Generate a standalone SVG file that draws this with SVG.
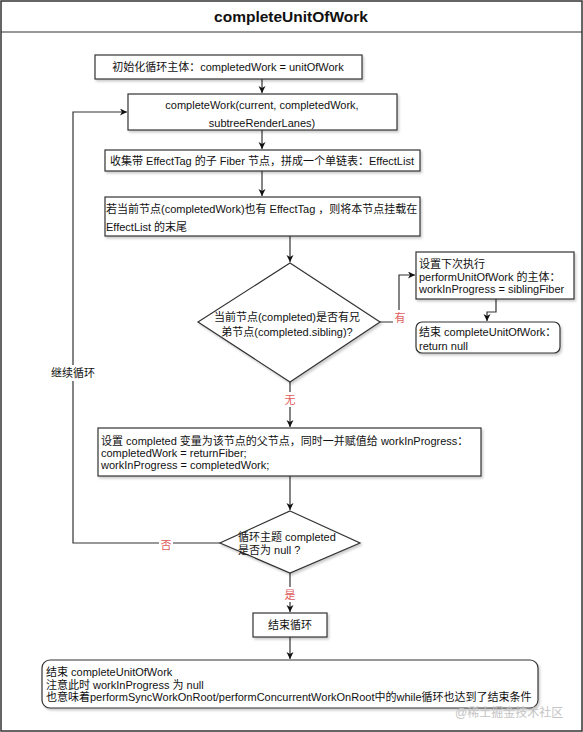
<svg xmlns="http://www.w3.org/2000/svg" width="583" height="732" viewBox="0 0 583 732">
<defs>
<style>
text{font-family:"Liberation Sans","Noto Sans CJK SC",sans-serif;font-size:11px;fill:#111}
.box{fill:#fff;stroke:#333;stroke-width:1.2}
.sh{filter:url(#shadow)}
.edge{fill:none;stroke:#333;stroke-width:1.2}
.lbl{fill:#e05a5a;font-size:11px;text-anchor:middle}
.c{text-anchor:middle}
</style>
<filter id="shadow" x="-10%" y="-10%" width="130%" height="140%">
<feDropShadow dx="1.5" dy="2" stdDeviation="1" flood-color="#000" flood-opacity="0.2"/>
</filter>
<marker id="arr" markerUnits="userSpaceOnUse" markerWidth="9" markerHeight="9" refX="7" refY="3.5" orient="auto">
<path d="M0,0 L7,3.5 L0,7 L2,3.5 z" fill="#111"/>
</marker>
</defs>
<rect x="0" y="0" width="583" height="732" fill="#fff"/>
<g id="frame">
<rect x="1" y="1" width="581" height="730" fill="none" stroke="#333" stroke-width="1.5"/>
<line x1="1" y1="32" x2="582" y2="32" stroke="#333" stroke-width="1.2"/>
<text x="291" y="22" text-anchor="middle" style="font-size:15.5px;font-weight:bold">completeUnitOfWork</text>
</g>
<g id="connectors">
<path class="edge" d="M262,79 V93" marker-end="url(#arr)"/>
<path class="edge" d="M262,130 V149" marker-end="url(#arr)"/>
<path class="edge" d="M262,171 V196" marker-end="url(#arr)"/>
<path class="edge" d="M290,236 V262" marker-end="url(#arr)"/>
<path class="edge" d="M380,322 H399 V275 H415" marker-end="url(#arr)"/>
<path class="edge" d="M496,299 V312 H487 V321" marker-end="url(#arr)"/>
<path class="edge" d="M290,382 V427" marker-end="url(#arr)"/>
<path class="edge" d="M290,476 V510" marker-end="url(#arr)"/>
<path class="edge" d="M220,543 H73 V112 H127" marker-end="url(#arr)"/>
<path class="edge" d="M290,573 V612" marker-end="url(#arr)"/>
<path class="edge" d="M290,637 V659" marker-end="url(#arr)"/>
<rect x="393" y="310" width="14" height="15" fill="#fff"/>
<text class="lbl" x="400" y="322">有</text>
<rect x="283" y="392" width="14" height="15" fill="#fff"/>
<text class="lbl" x="290" y="404">无</text>
<rect x="159" y="537" width="14" height="15" fill="#fff"/>
<text class="lbl" x="166" y="549">否</text>
<rect x="283" y="587" width="14" height="15" fill="#fff"/>
<text class="lbl" x="290" y="599">是</text>
<rect x="51" y="365" width="44" height="16" fill="#fff"/>
<text class="c" x="73" y="377">继续循环</text>
</g>
<g id="n-init">
<rect class="box sh" x="95" y="55" width="267" height="24"/>
<text class="c" x="228" y="71">初始化循环主体：completedWork = unitOfWork</text>
</g>
<g id="n-completeWork">
<rect class="box sh" x="128" y="94" width="269" height="36"/>
<text class="c" x="262" y="109">completeWork(current, completedWork,</text>
<text class="c" x="262" y="127">subtreeRenderLanes)</text>
</g>
<g id="n-collect">
<rect class="box sh" x="105" y="150" width="315" height="21"/>
<text class="c" x="262" y="165">收集带 EffectTag 的子 Fiber 节点，拼成一个单链表：EffectList</text>
</g>
<g id="n-append">
<rect class="box sh" x="105" y="197" width="315" height="39"/>
<text x="106" y="213">若当前节点(completedWork)也有 EffectTag ，则将本节点挂载在</text>
<text x="106" y="231">EffectList 的末尾</text>
</g>
<g id="n-hasSibling">
<polygon class="box sh" points="290,263 380,322 290,382 198,322"/>
<text class="c" x="287" y="321">当前节点(completed)是否有兄</text>
<text class="c" x="287" y="336">弟节点(completed.sibling)?</text>
</g>
<g id="n-setNext">
<rect class="box sh" x="416" y="252" width="158" height="47"/>
<text x="419" y="268">设置下次执行</text>
<text x="419" y="280.5">performUnitOfWork 的主体：</text>
<text x="419" y="293">workInProgress = siblingFiber</text>
</g>
<g id="n-returnNull">
<rect class="box sh" x="416" y="322" width="144" height="31" rx="6"/>
<text x="419" y="336">结束 completeUnitOfWork：</text>
<text x="419" y="349.5">return null</text>
</g>
<g id="n-setParent">
<rect class="box sh" x="98" y="428" width="383" height="48"/>
<text x="101" y="445">设置 completed 变量为该节点的父节点，同时一并赋值给 workInProgress：</text>
<text x="101" y="457">completedWork = returnFiber;</text>
<text x="101" y="469">workInProgress = completedWork;</text>
</g>
<g id="n-isNull">
<polygon class="box sh" points="290,511 360,543 290,573 220,543"/>
<text x="238" y="541">循环主题 completed</text>
<text x="238" y="554">是否为 null ?</text>
</g>
<g id="n-endLoop">
<rect class="box sh" x="253" y="613" width="74" height="24"/>
<text class="c" x="290" y="629">结束循环</text>
</g>
<g id="n-end">
<rect class="box sh" x="42" y="660" width="496" height="48" rx="8"/>
<text x="46" y="676">结束 completeUnitOfWork</text>
<text x="46" y="689">注意此时 workInProgress 为 null</text>
<text x="46" y="701">也意味着performSyncWorkOnRoot/performConcurrentWorkOnRoot中的while循环也达到了结束条件</text>
</g>
<text x="455" y="717" style="font-size:12px;fill:#c4c4c4">@稀土掘金技术社区</text>
</svg>
